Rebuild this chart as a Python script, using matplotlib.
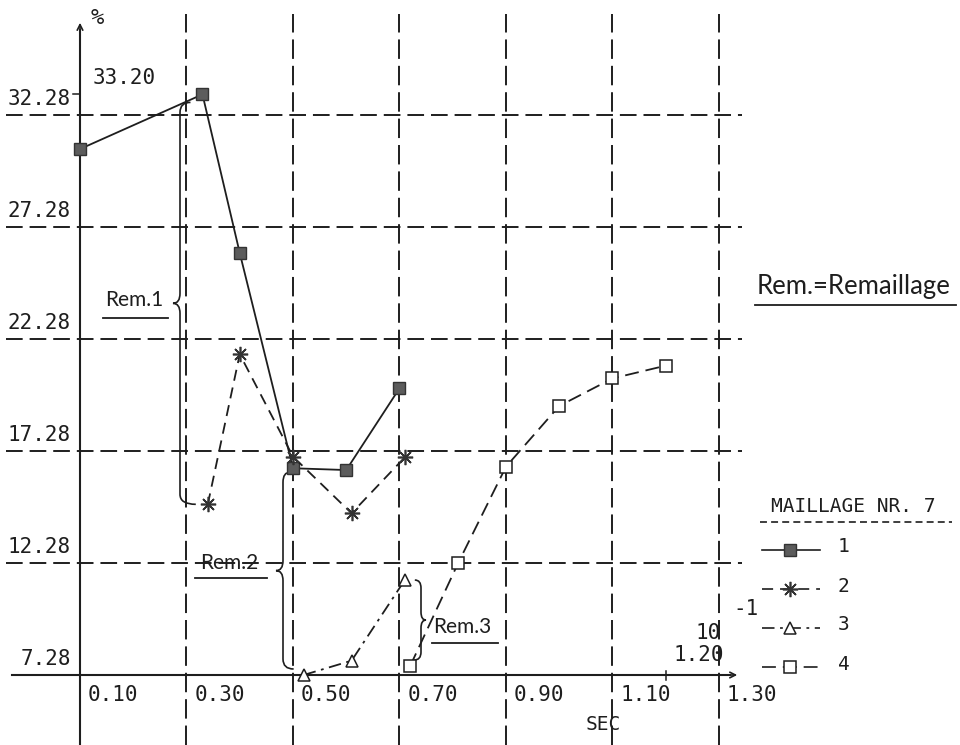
import numpy as np
import matplotlib.pyplot as plt
from matplotlib.path import Path
from matplotlib.patches import PathPatch

plt.rcParams['lines.scale_dashes'] = False

# temps (x 10^-1 s) et ecart (%) pour chaque maillage
t_m1 = [0.10, 0.33, 0.40, 0.50, 0.60, 0.70]
v_m1 = [30.76, 33.20, 26.12, 16.51, 16.43, 20.08]
t_m2 = [0.34, 0.40, 0.50, 0.61, 0.71]
v_m2 = [14.90, 21.60, 17.03, 14.50, 17.00]
t_m3 = [0.52, 0.61, 0.71]
v_m3 = [7.28, 7.92, 11.52]
t_m4 = [0.72, 0.81, 0.90, 1.00, 1.10, 1.20]
v_m4 = [7.68, 12.27, 16.58, 19.29, 20.52, 21.09]

y_ticks = [7.28, 12.28, 17.28, 22.28, 27.28, 32.28]
x_ticks = [0.10, 0.30, 0.50, 0.70, 0.90, 1.10, 1.30]
noms = ['1', '2', '3', '4']

W, H = 960, 745
SX, SY = 532.5, 22.4          # pixels par unite
X0, Y0 = 80, 675              # origine (0.10 ; 7.28) en pixels

def X(px):
    return 0.10 + (px - X0) / SX

def Y(py):
    return 7.28 + (Y0 - py) / SY

def px_x(t):
    return X0 + (t - 0.10) * SX

def px_y(v):
    return Y0 - (v - 7.28) * SY

ink = '#1e1e1e'
mono = 'DejaVu Sans Mono'
main = 'Lato'

fig = plt.figure(figsize=(W / 100, H / 100), dpi=100)
ax = fig.add_axes([0, 0, 1, 1])
ax.set_xlim(X(0), X(W))
ax.set_ylim(Y(H), Y(0))
ax.axis('off')

# quadrillage
ax.vlines(x_ticks[1:], Y(H), Y(14), colors=ink, linestyles=[(0, (14, 5))], lw=1.4)
ax.hlines(y_ticks[1:], X(6), X(742), colors=ink, linestyles=[(0, (12, 5))], lw=1.4)

# axes avec fleches
ax.plot([0.10, 0.10], [Y(H), Y(30)], color=ink, lw=1.5)
ax.annotate('', xy=(0.10, Y(20)), xytext=(0.10, Y(40)),
            arrowprops=dict(arrowstyle='->', color=ink, lw=1.2))
ax.plot([X(12), X(730)], [7.28, 7.28], color=ink, lw=1.5)
ax.annotate('', xy=(X(740), 7.28), xytext=(X(720), 7.28),
            arrowprops=dict(arrowstyle='->', color=ink, lw=1.2))

# petites graduations
ax.plot([X(73), 0.10], [max(v_m1)] * 2, color=ink, lw=1.1)
ax.plot([1.20, 1.20], [Y(671), Y(680)], color=ink, lw=1.1)

for v in y_ticks:
    ax.text(X(71), v + 6 / SY, f'{v:.2f}', ha='right', va='bottom',
            fontsize=15, family=mono, color=ink)
for t in x_ticks:
    ax.text(t + 8 / SX, Y(695), f'{t:.2f}', ha='left', va='center',
            fontsize=15, family=mono, color=ink)

ax.text(X(91), Y(18), '%', fontsize=16, family=mono, color=ink, va='center')
ax.text(X(93), Y(78), f'{max(v_m1):.2f}', fontsize=15, family=mono,
        color=ink, va='center')
ax.text(X(603), Y(725), 'SEC', fontsize=14, family=mono, color=ink,
        ha='center', va='center')
ax.text(X(696), Y(633), '10', fontsize=15, family=mono, color=ink, va='center')
ax.text(X(733), Y(609), '-1', fontsize=15, family=mono, color=ink, va='center')
ax.text(X(674), Y(655), '1.20', fontsize=15, family=mono, color=ink, va='center')

# courbes
styles = [
    dict(ls='-', marker='s', ms=8.5, mfc='#5c5c5c', mec='#333333', mew=1.0),
    dict(ls=(0, (8, 5)), marker=(8, 2, 0), ms=11, mec='#333333', mew=1.2),
    dict(ls=(0, (9, 4, 2, 4)), marker='^', ms=9, mfc='white', mec=ink, mew=1.1),
    dict(ls=(0, (10, 5)), marker='s', ms=8.5, mfc='white', mec=ink, mew=1.1),
]
series = [(t_m1, v_m1), (t_m2, v_m2), (t_m3, v_m3), (t_m4, v_m4)]
for (t, v), st in zip(series, styles):
    ax.plot(t, v, color=ink, lw=1.3, zorder=3, **st)


def accolade(xl, xa, ya, xb, yb, side, r=10, k=7):
    # trait vertical en xl, extremites (xa, ya) et (xb, yb), pointe vers side
    ym = (ya + yb) / 2
    pts = [(xa, ya), (xl, ya), (xl, ya + r), (xl, ym - r), (xl, ym),
           (xl + side * k, ym), (xl, ym), (xl, ym + r), (xl, yb - r),
           (xl, yb), (xb, yb)]
    codes = [Path.MOVETO, Path.CURVE3, Path.CURVE3, Path.LINETO, Path.CURVE3,
             Path.CURVE3, Path.CURVE3, Path.CURVE3, Path.LINETO, Path.CURVE3,
             Path.CURVE3]
    verts = [(X(px), Y(py)) for px, py in pts]
    ax.add_patch(PathPatch(Path(verts, codes), fill=False, ec=ink, lw=1.2))


accolade(180, px_x(t_m1[1]) - 12, px_y(v_m1[1]) + 8,
         px_x(t_m2[0]) - 12, px_y(v_m2[0]), -1)
accolade(283, px_x(t_m1[3]) - 3, px_y(v_m1[3]) + 4,
         px_x(t_m3[0]) - 10, px_y(v_m3[0]) - 6, -1)
accolade(421, px_x(t_m3[2]) + 10, px_y(v_m3[2]),
         px_x(t_m4[0]) + 4, px_y(v_m4[0]) - 6, 1, r=8, k=5)


def souligne(txt, px, py, x1, x2, uy, size=15):
    ax.text(X(px), Y(py), txt, fontsize=size, family=main, color=ink,
            va='center')
    ax.plot([X(x1), X(x2)], [Y(uy), Y(uy)], color=ink, lw=1.3)


souligne('Rem.1', 105, 300, 103, 168, 318)
souligne('Rem.2', 200, 563, 195, 267, 578)
souligne('Rem.3', 433, 627, 432, 498, 643)
souligne('Rem.=Remaillage', 757, 287, 755, 956, 305, size=18.5)

# legende
ax.text(X(771), Y(507), 'MAILLAGE NR. 7', fontsize=14, family=mono,
        color=ink, va='center')
ax.plot([X(760), X(952)], [Y(522), Y(522)], color=ink, lw=1.2,
        ls=(0, (5, 3)))
for i, (nom, st) in enumerate(zip(noms, styles)):
    yy = Y(550 + i * 39)
    ax.plot([X(762), X(820)], [yy, yy], color=ink, lw=1.2, ls=st['ls'])
    ax.plot([X(790)], [yy], color=ink, ls='none',
            **{k: v for k, v in st.items() if k != 'ls'})
    ax.text(X(838), yy + 3 / SY, nom, fontsize=14, family=mono, color=ink,
            va='center')

fig.savefig('out.png', dpi=100, facecolor='white')
